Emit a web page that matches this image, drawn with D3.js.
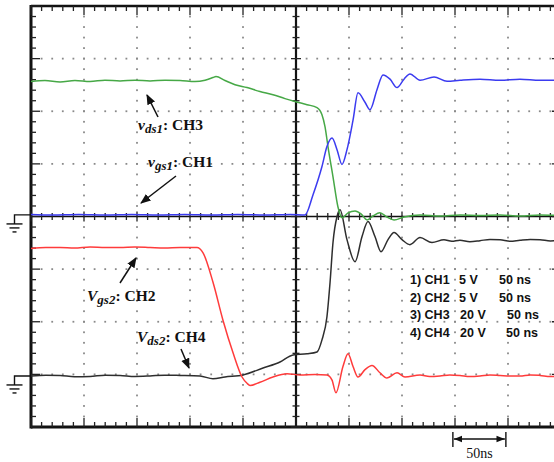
<!DOCTYPE html>
<html>
<head>
<meta charset="utf-8">
<script src="https://cdn.jsdelivr.net/npm/d3@7"></script>
<style>
html,body{margin:0;padding:0;background:#fff;}
svg{display:block;}
</style>
</head>
<body>
<svg id="chart" width="554" height="462"></svg>
<script>
// ---- data (time in ns, value in volts) ----
const channels = ["CH1", "CH2", "CH3", "CH4"];
const voltsPerDiv = [5, 5, 20, 20];
const groundDiv = [0.03, -3.03, 0.03, -3.03];
const channelColors = ["#3b3bf0", "#ff3b3b", "#46a846", "#2e2e2e"];
const legendVolts = ["5 V", "5 V", "20 V", "20 V"];
const legendTime = ["50 ns", "50 ns", "50 ns", "50 ns"];
const timeDivNs = 50;
const timeRange = [0, 500];
const divRange = [-4, 4];
const scaleBarNs = [398, 448];
const scaleBarLabel = "50ns";

const ch1Time = [0, 20, 45, 70, 95, 120, 145, 170, 195, 220, 245, 258.5, 266.0, 274.5, 279.2, 284.0, 288.7, 293.4, 298.1, 303.8, 308.5, 315.1, 319.8, 326.4, 332.1, 338.7, 345.3, 351.9, 357.5, 367.0, 380.2, 392.5, 404.7, 423.6, 442.5, 461.3, 480.2, 500];
const ch1Volt = [0.05, 0.0, 0.05, 0.0, 0.05, 0.0, 0.05, 0.0, 0.05, 0.0, 0.05, 0.0, 1.9, 4.6, 6.5, 7.3, 6.2, 4.8, 6.2, 9.0, 11.6, 10.7, 10.0, 11.9, 13.3, 12.9, 12.1, 12.9, 13.4, 12.8, 13.1, 12.7, 12.8, 12.9, 12.8, 12.9, 12.8, 12.8];

const ch2Time = [0, 14, 27.4, 41, 55.7, 70, 84, 98, 112.3, 126, 140.6, 156.6, 162.3, 171.7, 181.1, 190.6, 199.1, 203.8, 206.6, 216.0, 228.3, 241.5, 253.8, 267.9, 279.2, 284.0, 287.7, 294.3, 299.1, 303.8, 308.5, 315.1, 321.7, 329.2, 335.8, 345.3, 352.8, 367, 376, 385.8, 395, 404.7, 414, 423.6, 433, 442.5, 452, 461.3, 471, 480.2, 490, 500];
const ch2Volt = [12.1, 12.2, 12.2, 12.15, 12.25, 12.2, 12.2, 12.25, 12.2, 12.15, 12.2, 12.2, 11.7, 8.9, 5.3, 2.2, -0.1, -0.7, -0.9, -0.6, -0.1, 0.2, 0.1, 0.15, 0.1, -0.4, -1.6, 0.9, 2.1, 0.9, -0.1, 0.6, 1.0, 0.3, -0.2, 0.3, -0.1, 0.1, -0.05, 0.0, 0.1, 0.05, -0.05, 0.0, 0.1, 0.05, 0.0, 0.0, 0.1, 0.05, -0.05, 0.0];

const ch3Time = [0, 13.2, 27.4, 41.5, 55.7, 69.8, 84.0, 98.1, 112.3, 126.4, 140.6, 154.7, 164.2, 171.7, 174.5, 183.0, 192.5, 203.8, 216.0, 228.3, 239.6, 249.1, 260.4, 269.8, 274.5, 277.4, 280.2, 284.9, 289.6, 293.4, 299.1, 305.7, 311.3, 317.0, 322.6, 329.2, 335.8, 342.5, 351.9, 367.0, 385.8, 404.7, 423.6, 442.5, 461.3, 480.2, 500];
const ch3Volt = [50.7, 51.1, 50.5, 51.1, 50.7, 51.2, 50.9, 51.2, 50.9, 51.2, 51.1, 50.7, 51.2, 52.2, 52.6, 51.1, 49.5, 48.4, 46.9, 45.7, 44.2, 43.1, 41.9, 40.8, 38.1, 33.5, 25.9, 14.5, 3.0, -1.1, 0.8, 1.5, 0.4, -1.9, -0.4, 0.8, -0.8, -1.9, -0.8, 0.0, -0.4, 0.0, -0.2, 0.0, -0.4, 0.0, -0.2];

const ch4Time = [0, 14, 27.4, 41, 55.7, 70, 84, 98, 112.3, 126, 140.6, 159.4, 171.7, 183.0, 200, 218.9, 234.9, 247.2, 260.4, 269.8, 274.5, 279.2, 282.1, 284.9, 288.7, 291.5, 298.1, 305.7, 312.3, 317.9, 324.5, 330.2, 336.8, 342.5, 350.0, 357.5, 367.0, 378.3, 389.6, 397, 404.7, 414, 423.6, 433, 442.5, 452, 461.3, 471, 480.2, 490, 500];
const ch4Volt = [0, 0.3, 0.2, -0.3, -0.2, 0.3, 0.2, -0.2, 0, 0.3, 0.2, 0, -1.1, -0.4, 0.4, 3.0, 5.3, 8.0, 8.4, 9.1, 13.7, 22.5, 35.4, 50.7, 60.6, 63.2, 51.8, 43.4, 53.0, 58.7, 53.0, 47.2, 51.8, 54.5, 51.8, 49.9, 52.6, 50.7, 51.8, 51.2, 51.6, 51.0, 51.4, 51.9, 51.8, 51.2, 51.6, 51.9, 51.8, 51.3, 51.6];

const labelMain = ["v", "V", "v", "V"];
const labelSub = ["gs1", "gs2", "ds1", "ds2"];
const labelTail = [": CH1", ": CH2", ": CH3", ": CH4"];

// ---- layout ----
const svg = d3.select("#chart");
const x = d3.scaleLinear().domain(timeRange).range([31, 561]);
const y = d3.scaleLinear().domain(divRange).range([427, 6]);
const x0 = x(250), y0 = y(0);

const majorT = d3.range(timeRange[0], timeRange[1] + 0.01, timeDivNs);
const minorT = d3.range(timeRange[0], timeRange[1] + 0.01, timeDivNs / 5);
const majorD = d3.range(divRange[0], divRange[1] + 0.01, 1);
const minorD = d3.range(divRange[0], divRange[1] + 0.01, 0.2);

// dotted grid
const dots = svg.append("g").attr("fill", "#8a8a8a");
majorD.filter(d => d !== 0 && d !== -4 && d !== 4).forEach(d => {
  minorT.forEach(t => dots.append("rect").attr("x", x(t) - 0.9).attr("y", y(d) - 0.9).attr("width", 1.8).attr("height", 1.8));
});
majorT.filter(t => t !== 250 && t !== 0 && t !== 500).forEach(t => {
  minorD.forEach(d => dots.append("rect").attr("x", x(t) - 0.9).attr("y", y(d) - 0.9).attr("width", 1.8).attr("height", 1.8));
});

// frame and center axes
const ax = svg.append("g").attr("stroke", "#111");
ax.append("line").attr("x1", x(0)).attr("x2", x(500)).attr("y1", y(4)).attr("y2", y(4)).attr("stroke-width", 2.5);
ax.append("line").attr("x1", x(0)).attr("x2", x(500)).attr("y1", y(-4)).attr("y2", y(-4)).attr("stroke-width", 3);
ax.append("line").attr("x1", x(0)).attr("x2", x(0)).attr("y1", y(4) - 1).attr("y2", y(-4) + 1.5).attr("stroke-width", 3);
ax.append("line").attr("x1", x(500)).attr("x2", x(500)).attr("y1", y(4)).attr("y2", y(-4)).attr("stroke-width", 3);
ax.append("line").attr("x1", x(0)).attr("x2", x(500)).attr("y1", y0).attr("y2", y0).attr("stroke-width", 1.6);
ax.append("line").attr("x1", x0).attr("x2", x0).attr("y1", y(4)).attr("y2", y(-4)).attr("stroke-width", 2.2);

const isMajorT = t => Math.abs(t / timeDivNs - Math.round(t / timeDivNs)) < 1e-6;
const isMajorD = d => Math.abs(d - Math.round(d)) < 1e-6;
const tk = svg.append("g").attr("stroke", "#222").attr("stroke-width", 1.3);
minorT.forEach(t => {
  const L = isMajorT(t) ? 9 : 5;
  tk.append("line").attr("x1", x(t)).attr("x2", x(t)).attr("y1", y(4)).attr("y2", y(4) + L);
  tk.append("line").attr("x1", x(t)).attr("x2", x(t)).attr("y1", y(-4)).attr("y2", y(-4) - L);
  const c = isMajorT(t) ? 5 : 3.5;
  tk.append("line").attr("x1", x(t)).attr("x2", x(t)).attr("y1", y0 - c).attr("y2", y0 + c);
});
minorD.forEach(d => {
  const L = isMajorD(d) ? 9 : 5;
  tk.append("line").attr("x1", x(0)).attr("x2", x(0) + L).attr("y1", y(d)).attr("y2", y(d));
  tk.append("line").attr("x1", x(500)).attr("x2", x(500) - L).attr("y1", y(d)).attr("y2", y(d));
  const c = isMajorD(d) ? 5 : 3.5;
  tk.append("line").attr("x1", x0 - c).attr("x2", x0 + c).attr("y1", y(d)).attr("y2", y(d));
});

// ground symbols
const gnd = svg.append("g").attr("stroke", "#111").attr("stroke-width", 1.4).attr("fill", "none");
[groundDiv[0], groundDiv[1]].forEach(g => {
  const gy = y(g);
  gnd.append("path").attr("d", `M${x(0)},${gy}H14.5V${gy + 9}`);
  gnd.append("line").attr("x1", 6.5).attr("x2", 22.5).attr("y1", gy + 9).attr("y2", gy + 9);
  gnd.append("line").attr("x1", 9.5).attr("x2", 19.5).attr("y1", gy + 13).attr("y2", gy + 13);
  gnd.append("line").attr("x1", 12.5).attr("x2", 16.5).attr("y1", gy + 17).attr("y2", gy + 17);
});

// traces
const series = [
  {i: 3, t: ch4Time, v: ch4Volt},
  {i: 1, t: ch2Time, v: ch2Volt},
  {i: 2, t: ch3Time, v: ch3Volt},
  {i: 0, t: ch1Time, v: ch1Volt}
];
const line = d3.line().curve(d3.curveMonotoneX);
series.forEach(s => {
  const pts = s.t.map((t, k) => [x(t), y(groundDiv[s.i] + s.v[k] / voltsPerDiv[s.i])]);
  svg.append("path").attr("d", line(pts)).attr("fill", "none")
    .attr("stroke", channelColors[s.i]).attr("stroke-width", 1.5).attr("stroke-linejoin", "round");
});

// labels with arrows
const defs = svg.append("defs");
defs.append("marker").attr("id", "ah").attr("viewBox", "0 0 10 10").attr("refX", 9).attr("refY", 5)
  .attr("markerWidth", 7).attr("markerHeight", 7).attr("orient", "auto")
  .append("path").attr("d", "M0,1L10,5L0,9Z").attr("fill", "#111");

const labelPos = [
  {tx: 148, ty: 167, a: [176, 176, 141, 203]},
  {tx: 87, ty: 301, a: [120, 283, 136, 258]},
  {tx: 138, ty: 130, a: [158, 117, 147, 95]},
  {tx: 137, ty: 342, a: [181, 349, 189, 368]}
];
labelPos.forEach((p, i) => {
  const t = svg.append("text").attr("x", p.tx).attr("y", p.ty)
    .attr("font-family", "'Liberation Serif','Times New Roman',serif").attr("font-weight", "bold")
    .attr("font-size", 15.5).attr("fill", "#111");
  t.append("tspan").attr("font-style", "italic").text(labelMain[i]);
  t.append("tspan").attr("font-style", "italic").attr("font-size", 13).attr("dy", 3).text(labelSub[i]);
  t.append("tspan").attr("dy", -3).text(labelTail[i]);
  svg.append("line").attr("x1", p.a[0]).attr("y1", p.a[1]).attr("x2", p.a[2]).attr("y2", p.a[3])
    .attr("stroke", "#111").attr("stroke-width", 1.5).attr("marker-end", "url(#ah)");
});

// legend
const lg = svg.append("g").attr("font-family", "'Liberation Sans',Arial,sans-serif")
  .attr("font-weight", "bold").attr("font-size", 12.5).attr("fill", "#111");
const voltX = [459, 459, 460, 460];
const timeX = [499, 499, 507, 506];
channels.forEach((c, i) => {
  const ly = 284 + i * 17.6;
  lg.append("text").attr("x", 410).attr("y", ly).text(`${i + 1}) ${c}`);
  lg.append("text").attr("x", voltX[i]).attr("y", ly).text(legendVolts[i]);
  lg.append("text").attr("x", timeX[i]).attr("y", ly).text(legendTime[i]);
});

// 50 ns scale bar
const sb = svg.append("g").attr("stroke", "#111").attr("stroke-width", 1.4);
const sx1 = x(scaleBarNs[0]), sx2 = x(scaleBarNs[1]);
sb.append("line").attr("x1", sx1).attr("x2", sx1).attr("y1", 432).attr("y2", 447);
sb.append("line").attr("x1", sx2).attr("x2", sx2).attr("y1", 432).attr("y2", 447);
defs.append("marker").attr("id", "ah2").attr("viewBox", "0 0 10 10").attr("refX", 10).attr("refY", 5)
  .attr("markerWidth", 6).attr("markerHeight", 6).attr("orient", "auto-start-reverse")
  .append("path").attr("d", "M0,1L10,5L0,9Z").attr("fill", "#111");
sb.append("line").attr("x1", sx1 + 1).attr("x2", sx2 - 1).attr("y1", 439).attr("y2", 439)
  .attr("marker-start", "url(#ah2)").attr("marker-end", "url(#ah2)");
svg.append("text").attr("x", (sx1 + sx2) / 2).attr("y", 458).attr("text-anchor", "middle")
  .attr("font-family", "'Liberation Serif','Times New Roman',serif").attr("font-size", 14)
  .attr("fill", "#111").text(scaleBarLabel);
</script>
</body>
</html>
